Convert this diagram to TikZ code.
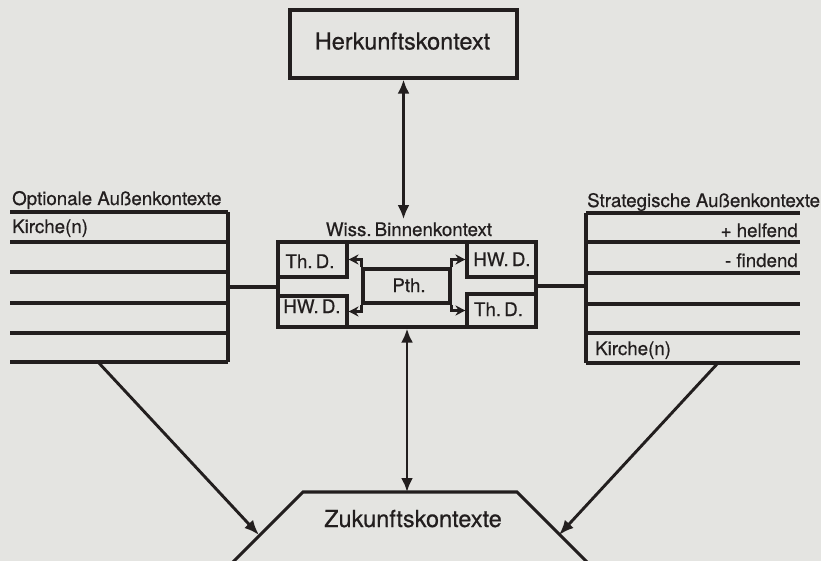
\documentclass[tikz,border=0pt]{standalone}
\usepackage{fontspec}
\setmainfont{TeX Gyre Heros}
\newfontfamily\inkfont{TeX Gyre Heros}[FakeBold=0.6]
\usetikzlibrary{arrows.meta,calc}
\definecolor{paper}{RGB}{228,228,225}
\definecolor{ink}{RGB}{34,30,30}
\tikzset{
  rule/.style={draw=ink, line width=3.1pt},
  frame/.style={draw=ink, line width=3.1pt, inner sep=0pt, minimum width=#1},
  big/.style={font=\inkfont\fontsize{23.5}{27}\selectfont, text=ink, inner sep=0pt},
  lab/.style={font=\inkfont\fontsize{18.7}{22}\selectfont, text=ink, inner sep=0pt},
  biarrow/.style={draw=ink, line width=2.9pt,
    {Latex[length=14pt,width=12pt]}-{Latex[length=14pt,width=12pt]}},
  onearrow/.style={draw=ink, line width=2.9pt, -{Latex[length=15pt,width=12pt]}},
  hook/.style={draw=ink, line width=2.7pt, -{Stealth[length=10pt,width=10pt]}}
}
\begin{document}
\begin{tikzpicture}[x=1pt,y=-1pt]
  \useasboundingbox (0,0) rectangle (821,561);
  \fill[paper] (0,0) rectangle (821,561);
  \clip (0,0) rectangle (821,561);

  % origin context
  \node[frame=227pt, minimum height=68pt] (herk) at (403.5,44) {};
  \node[big, anchor=base] (herktext) at (402.5,49.5) {Herkunftskontext};

  % scientific inner context
  \node[lab, anchor=base] (wisslab) at (409,236) {Wiss.\,Binnenkontext};
  \node[frame=258pt, minimum height=85pt] (wiss) at (407,284.5) {};
  \node[frame=69pt, minimum height=35pt] (thdL) at (312.5,259.5) {};
  \node[frame=69pt, minimum height=31pt] (hwdL) at (312.5,311.5) {};
  \node[frame=87pt, minimum height=34pt] (pth)  at (406.5,286) {};
  \node[frame=69pt, minimum height=35pt] (hwdR) at (501.5,259.5) {};
  \node[frame=69pt, minimum height=33pt] (thdR) at (501.5,310.5) {};
  \node[lab, anchor=base] at (310,268) {Th.\,D.};
  \node[lab, anchor=base] at (312,313) {HW.\,D.};
  \node[lab, anchor=base] at (409,292) {Pth.};
  \node[lab, anchor=base] at (502,266) {HW.\,D.};
  \node[lab, anchor=base] at (498.5,316) {Th.\,D.};

  \draw[hook] (pth.north west) |- (thdL.east);
  \draw[hook] (pth.south west) |- (hwdL.east);
  \draw[hook] (pth.north east) |- (hwdR.west);
  \draw[hook] (pth.south east) |- (thdR.west);

  % optional outer contexts
  \node[lab, anchor=base west] (optlab) at (12,205) {Optionale Außenkontexte};
  \node[lab, anchor=base west] (optkir) at (12,233) {Kirche(n)};
  \foreach \y in {212,242,272,303,333,362}
    \draw[rule] (10,\y) -- (228,\y);
  \draw[rule] (228,212) -- (228,362);
  \coordinate (optjoin) at (228,287);
  \coordinate (optfoot) at (98,362);
  \draw[rule] (optjoin) -- (optjoin -| wiss.west);

  % strategic outer contexts
  \node[lab, anchor=base west] (strlab) at (587,207) {Strategische Außenkontexte};
  \node[lab, anchor=base east] (help) at (798,237) {+ helfend};
  \node[lab, anchor=base east] (find) at (798,267) {- findend};
  \node[lab, anchor=base west] (strkir) at (595,355) {Kirche(n)};
  \foreach \y in {213,242,273,304,333,363}
    \draw[rule] (586,\y) -- (800,\y);
  \draw[rule] (586,213) -- (586,363);
  \coordinate (strjoin) at (586,286);
  \coordinate (strfoot) at (718,363);
  \draw[rule] (strjoin) -- (strjoin -| wiss.east);

  % future contexts
  \draw[rule] (226,569) -- (303,492) -- (517,492) -- (594,569);
  \node[big, anchor=base] (zuk) at (413,527) {Zukunftskontexte};
  \coordinate (ztop) at (407,492);
  \coordinate (zleft) at (259,535);
  \coordinate (zright) at (559,535);

  % connectors
  \draw[biarrow] (herk.south) -- ($(herk.south |- wisslab.north)+(0,-3)$);
  \draw[biarrow] (wiss.south) -- (ztop);
  \draw[onearrow] (optfoot) -- (zleft);
  \draw[onearrow] (strfoot) -- (zright);
\end{tikzpicture}
\end{document}
